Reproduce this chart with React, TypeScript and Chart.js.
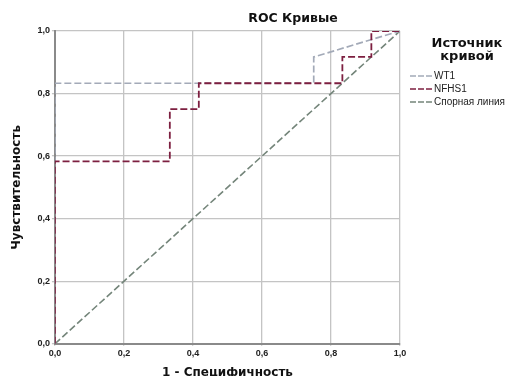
import React, { useEffect, useRef } from "react";
import { Chart, registerables } from "chart.js";

Chart.register(...registerables);

const seriesNames = ["WT1", "NFHS1", "Спорная линия"];
const wt1X = [0, 0, 0.75, 0.75, 1.0];
const wt1Y = [0, 0.833, 0.833, 0.917, 1.0];
const nfhsX = [0, 0, 0.333, 0.333, 0.417, 0.417, 0.833, 0.833, 0.917, 0.917, 1.0];
const nfhsY = [0, 0.583, 0.583, 0.75, 0.75, 0.833, 0.833, 0.917, 0.917, 1.0, 1.0];
const refX = [0, 1];
const refY = [0, 1];
const tickValues = [0, 0.2, 0.4, 0.6, 0.8, 1.0];
const titleText = "ROC Кривые";
const legendTitle = ["Источник", "кривой"];
const xTitle = "1 - Специфичность";
const yTitle = "Чувствительность";
const colors = ["#a3aab8", "#7d1f40", "#74857a"];

const zip = (xs: number[], ys: number[]) => xs.map((x, i) => ({ x, y: ys[i] }));

const FONT = "'Liberation Sans', Arial, sans-serif";
const WFONT = "'DejaVu Sans', sans-serif";

const overlay = {
  id: "overlay",
  afterDraw(chart: any) {
    const ctx = chart.ctx;
    ctx.save();
    ctx.fillStyle = "#111";
    ctx.textAlign = "center";
    ctx.textBaseline = "middle";
    ctx.font = `bold 12.5px ${WFONT}`;
    ctx.fillText(titleText, 285, 11);
    ctx.font = `bold 13px ${WFONT}`;
    ctx.fillText(legendTitle[0], 459, 36);
    ctx.fillText(legendTitle[1], 459, 49);
    ctx.font = `10px ${FONT}`;
    ctx.textAlign = "left";
    const ys = [68, 81, 94];
    seriesNames.forEach((n, i) => {
      ctx.strokeStyle = colors[i];
      ctx.lineWidth = 1.6;
      ctx.setLineDash([6, 2]);
      ctx.beginPath();
      ctx.moveTo(402, ys[i]);
      ctx.lineTo(424, ys[i]);
      ctx.stroke();
      ctx.fillStyle = "#222";
      ctx.fillText(n, 426, ys[i] + 0.5);
    });
    ctx.restore();
  },
};

export default function App() {
  const ref = useRef<HTMLCanvasElement>(null);
  useEffect(() => {
    const tickFmt = (v: any) => Number(v).toFixed(1).replace(".", ",");
    const chart = new Chart(ref.current!, {
      type: "line",
      data: {
        datasets: [
          {
            label: seriesNames[0],
            data: zip(wt1X, wt1Y),
            borderColor: colors[0],
            borderWidth: 1.7,
            borderDash: [7, 3],
            pointRadius: 0,
            order: 1,
          },
          {
            label: seriesNames[1],
            data: zip(nfhsX, nfhsY),
            borderColor: colors[1],
            borderWidth: 1.8,
            borderDash: [7, 3],
            pointRadius: 0,
            order: 0,
          },
          {
            label: seriesNames[2],
            data: zip(refX, refY),
            borderColor: colors[2],
            borderWidth: 1.6,
            borderDash: [7, 3],
            pointRadius: 0,
            order: 2,
          },
        ],
      },
      options: {
        animation: false,
        responsive: true,
        maintainAspectRatio: false,
        layout: { padding: { top: 23, right: 119, left: 0, bottom: 0 } },
        plugins: {
          legend: { display: false },
          title: { display: false },
          tooltip: { enabled: false },
        },
        scales: {
          x: {
            type: "linear",
            min: 0,
            max: 1,
            afterBuildTicks: (s: any) => {
              s.ticks = tickValues.map((v) => ({ value: v }));
            },
            ticks: {
              color: "#222",
              font: { family: FONT, size: 9, weight: "bold" },
              callback: tickFmt,
              padding: 2,
              maxRotation: 0,
            },
            grid: { color: "#c4c4c4", lineWidth: 1.3, tickLength: 2 },
            border: { color: "#8a8a8a", width: 2 },
            title: {
              display: true,
              text: xTitle,
              color: "#111",
              font: { family: WFONT, size: 12, weight: "bold" },
              padding: { top: 5, bottom: 4 },
            },
          },
          y: {
            type: "linear",
            min: 0,
            max: 1,
            afterBuildTicks: (s: any) => {
              s.ticks = tickValues.map((v) => ({ value: v }));
            },
            ticks: {
              color: "#222",
              font: { family: FONT, size: 9, weight: "bold" },
              callback: tickFmt,
              padding: 2,
            },
            grid: { color: "#c4c4c4", lineWidth: 1.3, tickLength: 3 },
            border: { color: "#8a8a8a", width: 2 },
            title: {
              display: true,
              text: yTitle,
              color: "#111",
              font: { family: WFONT, size: 12, weight: "bold" },
              padding: { top: 2, bottom: 11 },
            },
          },
        },
      },
      plugins: [overlay],
    });
    return () => chart.destroy();
  }, []);
  return (
    <div style={{ width: 511, height: 376, marginBottom: -8, position: "relative" }}>
      <canvas ref={ref} />
    </div>
  );
}
